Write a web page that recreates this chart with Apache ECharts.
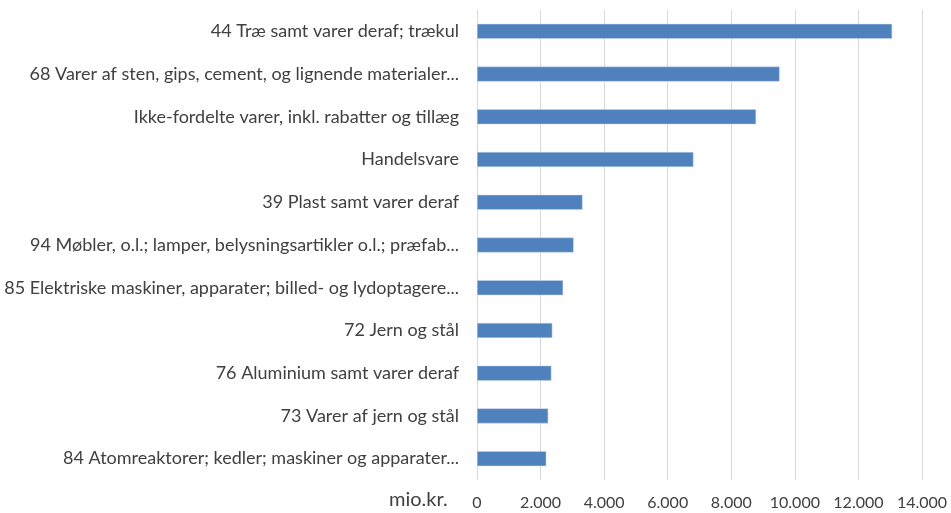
<!DOCTYPE html>
<html><head><meta charset="utf-8">
<script src="https://cdn.jsdelivr.net/npm/echarts@6/dist/echarts.min.js"></script>
<style>html,body{margin:0;padding:0;background:#fff}#c{width:951px;height:513px}</style>
</head><body><div id="c"></div>
<script>
const categories = [
  "44 Træ samt varer deraf; trækul",
  "68 Varer af sten, gips, cement, og lignende materialer...",
  "Ikke-fordelte varer, inkl. rabatter og tillæg",
  "Handelsvare",
  "39 Plast samt varer deraf",
  "94 Møbler, o.l.; lamper, belysningsartikler o.l.; præfab...",
  "85 Elektriske maskiner, apparater; billed- og lydoptagere...",
  "72 Jern og stål",
  "76 Aluminium samt varer deraf",
  "73 Varer af jern og stål",
  "84 Atomreaktorer; kedler; maskiner og apparater..."
];
const values = [13060, 9520, 8780, 6810, 3320, 3040, 2710, 2370, 2340, 2240, 2180];
const unitLabel = "mio.kr.";

const chart = echarts.init(document.getElementById('c'));
const font = "Lato, 'Noto Sans', sans-serif";
chart.setOption({
  animation: false,
  grid: {left: 477, right: 29, top: 10, bottom: 33, containLabel: false},
  xAxis: {
    type: 'value', min: 0, max: 14000, interval: 2000,
    axisLine: {show: false}, axisTick: {show: false},
    splitLine: {lineStyle: {color: '#d9d9d9', width: 1}},
    axisLabel: {
      color: '#404040', fontFamily: font, fontSize: 16, margin: 15,
      formatter: v => v.toString().replace(/\B(?=(\d{3})+(?!\d))/g, '.')
    }
  },
  yAxis: {
    type: 'category', inverse: true, data: categories,
    axisLine: {show: false}, axisTick: {show: false},
    axisLabel: {color: '#404040', fontFamily: font, fontSize: 18, margin: 18}
  },
  series: [{
    type: 'bar', data: values, barWidth: 15,
    itemStyle: {color: '#4f81bd', borderColor: '#c6d6ec', borderWidth: 0.5}
  }],
  graphic: [{
    type: 'text', left: 389, top: 490,
    style: {text: unitLabel, fill: '#404040', font: "20px " + font}
  }]
});
</script></body></html>
